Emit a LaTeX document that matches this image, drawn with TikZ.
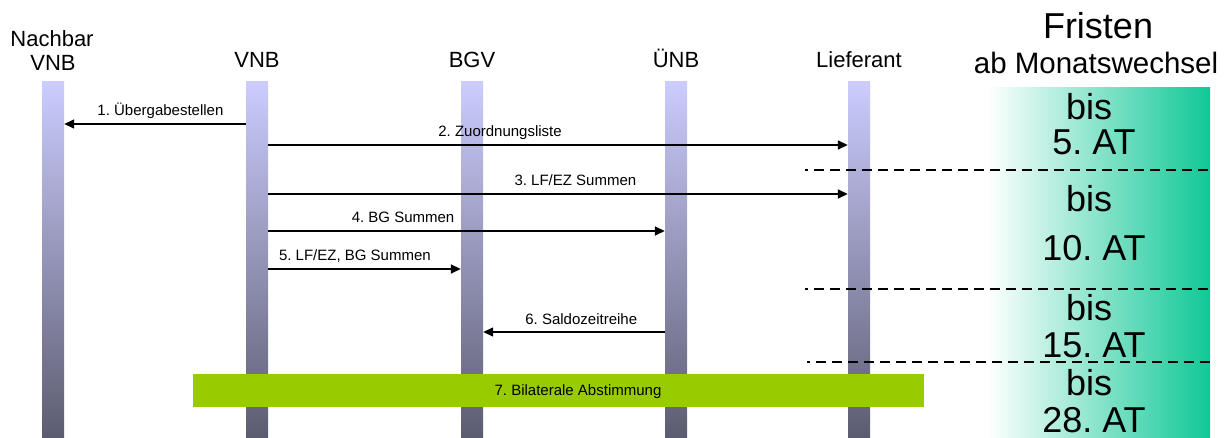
\documentclass[tikz,border=0pt]{standalone}
\usepackage{fontspec}
\setmainfont{Liberation Sans}
\frenchspacing
\usetikzlibrary{arrows.meta,positioning}
\definecolor{lifetop}{RGB}{204,204,255}
\definecolor{lifebot}{RGB}{92,92,112}
\definecolor{barlime}{RGB}{153,204,0}
\definecolor{fristgreen}{RGB}{16,200,150}
\tikzset{
  lifeline/.style={rectangle,anchor=north,inner sep=0pt,minimum width=22pt,minimum height=356pt,top color=lifetop,bottom color=lifebot,draw=none},
  head/.style={anchor=base,font=\fontsize{22}{26}\selectfont},
  msg/.style={-{Triangle[length=10pt,width=9pt]},line width=1.5pt},
  labeltext/.style={anchor=base,inner sep=0pt,font=\fontsize{15}{18}\selectfont},
  msglabel/.style={labeltext,yshift=8pt},
  frist/.style={anchor=base,font=\fontsize{36}{40}\selectfont},
  cutline/.style={line width=2.4pt,dash pattern=on 10pt off 6pt,dash phase=7pt}
}
\begin{document}
\begin{tikzpicture}[x=1pt,y=-1pt]
    \useasboundingbox (0,0) rectangle (1225,438);
    % Fristen column
    \shade[left color=white,right color=fristgreen] (987,88) rectangle (1210,438);
    \node[frist] (fristen) at (1098,39) {Fristen};
    \node[anchor=base,font=\fontsize{29.5}{33}\selectfont] (monat) at (1096,74) {ab Monatswechsel};
    \foreach \y/\z/\d in {120/155/5, 212/260/10, 320/357/15, 395/432/28} {
        \node[frist] (bis\d) at (1089,\y) {bis};
        \node[frist] (at\d) at (1094,\z) {\d. AT};
    }
    % lifelines
    \node[lifeline] (nvnb) at (53,81) {};
    \node[lifeline] (vnb) at (257,81) {};
    \node[lifeline] (bgv) at (472,81) {};
    \node[lifeline] (unb) at (676,81) {};
    \node[lifeline] (lief) at (859,81) {};
    \node[head] (nvnbtop) at (52,47) {Nachbar};
    \node[head] (nvnbhead) at (53,71) {VNB};
    \node[head] (vnbhead) at (257,68) {VNB};
    \node[head] (bgvhead) at (472,68) {BGV};
    \node[head] (unbhead) at (676,68) {ÜNB};
    \node[head] (liefhead) at (859,68) {Lieferant};
    % messages
    \draw[msg] (vnb.west |- 0,124) -- node[msglabel,pos=0.47] (m1) {1. Übergabestellen} (nvnb.east |- 0,124);
    \draw[msg] (vnb.east |- 0,145) -- node[msglabel,pos=0.4] (m2) {2. Zuordnungsliste} (lief.west |- 0,145);
    \draw[msg] (vnb.east |- 0,194) -- node[msglabel,pos=0.53] (m3) {3. LF/EZ Summen} (lief.west |- 0,194);
    \draw[msg] (vnb.east |- 0,231) -- node[msglabel,pos=0.34] (m4) {4. BG Summen} (unb.west |- 0,231);
    \draw[msg] (vnb.east |- 0,269) -- node[msglabel,pos=0.45] (m5) {5. LF/EZ, BG Summen} (bgv.west |- 0,269);
    \draw[msg] (unb.west |- 0,332) -- node[msglabel,pos=0.46] (m6) {6. Saldozeitreihe} (bgv.east |- 0,332);
    % deadlines
    \draw[cutline] (805,170) -- (1210,170);
    \draw[cutline] (805,289) -- (1210,289);
    \draw[cutline] (807,362) -- (1210,362);
    \node[rectangle,fill=barlime,minimum width=731pt,minimum height=33pt,inner sep=0pt] (abst) at (558.5,390.5) {};
    \node[labeltext] (abstlabel) at (578,395) {7. Bilaterale Abstimmung};
\end{tikzpicture}
\end{document}
